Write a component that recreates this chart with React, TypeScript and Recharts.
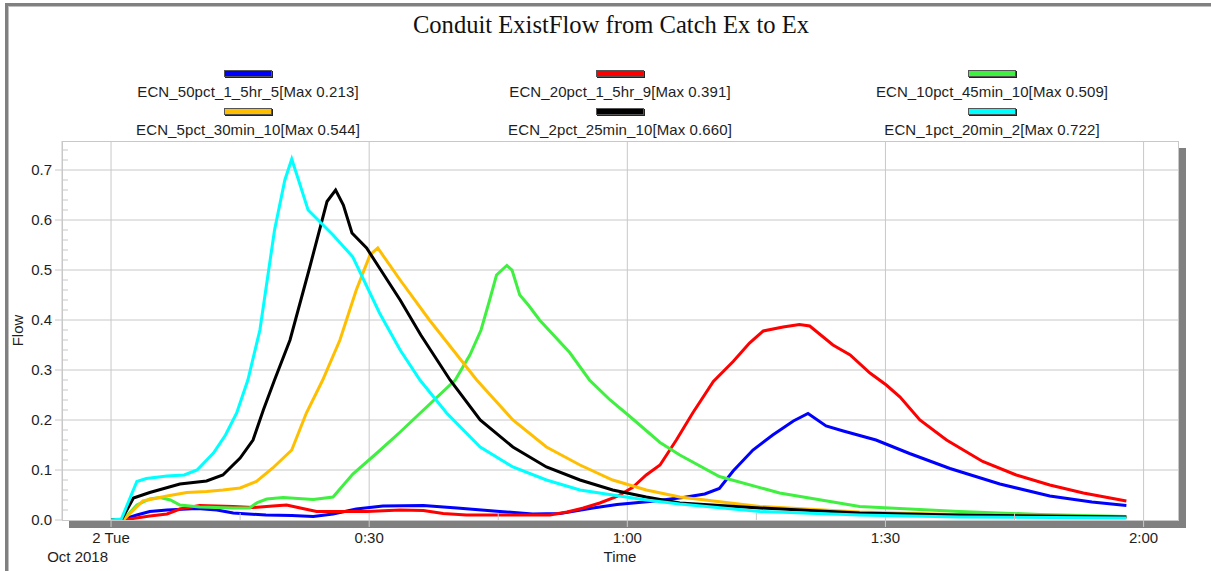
import { LineChart, Line, XAxis, YAxis, ReferenceLine } from "recharts";

type Pt = [number, number];

// minutes since 2 Oct 2018 00:00, flow
const ecn50pct: Pt[] = [
  [0, 0], [1.2, 0], [3, 0.01], [4.5, 0.017], [6.5, 0.02], [10, 0.023], [12.3, 0.02], [14.2, 0.014],
  [18, 0.01], [21, 0.009], [23.5, 0.007], [25.8, 0.012], [28.5, 0.022], [31.6, 0.028], [36.3, 0.029],
  [40.2, 0.024], [45.2, 0.017], [49, 0.012], [52.2, 0.013], [56, 0.024], [58.8, 0.031], [62.6, 0.037],
  [66.5, 0.045], [69, 0.052], [70.7, 0.063], [72.3, 0.098], [74.6, 0.14], [76.9, 0.17], [79.3, 0.198],
  [81, 0.213], [83.1, 0.188], [85.1, 0.178], [88.9, 0.16], [92.8, 0.133], [97.5, 0.103], [103.3, 0.072],
  [109.1, 0.048], [114, 0.036], [118, 0.029],
];
const ecn20pct: Pt[] = [
  [0, 0], [1.4, 0], [4.5, 0.008], [6.5, 0.012], [8, 0.022], [10.3, 0.029], [14.2, 0.027], [16.5, 0.025],
  [18.8, 0.028], [20.4, 0.03], [22, 0.024], [23.9, 0.017], [29.7, 0.017], [33.6, 0.02], [36.3, 0.019],
  [38.6, 0.013], [41.3, 0.01], [51, 0.01], [53, 0.016], [54.9, 0.024], [56.8, 0.034], [58.8, 0.047],
  [60.6, 0.065], [62.2, 0.09], [63.8, 0.11], [65.7, 0.16], [67.6, 0.214], [70, 0.277], [72.3, 0.317],
  [74.2, 0.354], [75.8, 0.378], [78.1, 0.386], [80, 0.391], [81.2, 0.388], [83.9, 0.35], [85.9, 0.33],
  [88.2, 0.294], [90.1, 0.27], [91.7, 0.246], [94, 0.2], [97.1, 0.16], [101.3, 0.117], [105.2, 0.09],
  [109.1, 0.07], [113, 0.054], [118, 0.038],
];
const ecn10pct: Pt[] = [
  [0, 0], [1.4, 0], [3, 0.03], [4.5, 0.042], [5.7, 0.045], [6.9, 0.04], [8, 0.03], [10.3, 0.026],
  [14.2, 0.024], [16.1, 0.024], [17, 0.035], [18.1, 0.042], [20, 0.045], [23.5, 0.041], [25.8, 0.046],
  [28.1, 0.092], [31.1, 0.137], [33.6, 0.176], [36, 0.215], [40, 0.28], [41.7, 0.33], [43, 0.38],
  [44, 0.44], [44.8, 0.49], [46, 0.509], [46.6, 0.5], [47.5, 0.45], [48.5, 0.43], [49.8, 0.4],
  [53.3, 0.335], [55.6, 0.28], [58, 0.24], [60.3, 0.207], [63.8, 0.155], [66.1, 0.13], [70.7, 0.087],
  [77.7, 0.054], [87, 0.027], [98.6, 0.017], [108, 0.011], [118, 0.007],
];
const ecn5pct: Pt[] = [
  [0, 0], [1.4, 0], [3.7, 0.038], [6.5, 0.048], [8.8, 0.055], [11.1, 0.057], [13, 0.06], [15, 0.064],
  [16.9, 0.077], [18.8, 0.104], [21, 0.14], [22.7, 0.214], [24.6, 0.28], [26.6, 0.36], [28.5, 0.46],
  [30.1, 0.53], [31, 0.544], [33.6, 0.48], [37, 0.4], [42.5, 0.28], [46.7, 0.2], [50.6, 0.146],
  [54.5, 0.11], [58.3, 0.08], [62.2, 0.06], [66.1, 0.046], [75.4, 0.027], [87, 0.016], [98, 0.011],
  [108, 0.008], [118, 0.006],
];
const ecn2pct: Pt[] = [
  [0, 0], [1.2, 0], [2.6, 0.044], [4.5, 0.055], [8, 0.072], [11.1, 0.078], [13, 0.09], [15, 0.124],
  [16.5, 0.16], [17.7, 0.22], [19, 0.28], [20.8, 0.36], [23.1, 0.506], [25.1, 0.637], [26.1, 0.66],
  [27, 0.63], [28, 0.574], [29.7, 0.544], [31.2, 0.504], [33.6, 0.44], [36, 0.37], [39.4, 0.28],
  [42.9, 0.2], [46.7, 0.146], [50.6, 0.106], [54.5, 0.08], [58.3, 0.06], [62.2, 0.046], [66.1, 0.034],
  [75.4, 0.024], [87, 0.014], [98, 0.01], [108, 0.008], [118, 0.006],
];
const ecn1pct: Pt[] = [
  [0, 0], [1.2, 0.002], [3, 0.077], [4.1, 0.083], [6.5, 0.088], [8.5, 0.09], [10, 0.1], [11.9, 0.134],
  [13.3, 0.17], [14.6, 0.214], [15.9, 0.28], [17.3, 0.38], [19, 0.58], [20.2, 0.68], [21, 0.722],
  [21.6, 0.69], [22.9, 0.62], [25.8, 0.57], [28.1, 0.526], [31.2, 0.414], [33.6, 0.34], [35.9, 0.28],
  [39, 0.214], [42.9, 0.146], [46.7, 0.106], [50.6, 0.08], [54.5, 0.06], [58.3, 0.05], [62.2, 0.04],
  [66.1, 0.032], [75.4, 0.017], [87, 0.01], [98.6, 0.006], [118, 0.004],
];

const seriesNames = [
  "ECN_50pct_1_5hr_5", "ECN_20pct_1_5hr_9", "ECN_10pct_45min_10",
  "ECN_5pct_30min_10", "ECN_2pct_25min_10", "ECN_1pct_20min_2",
];
const seriesMax = ["0.213", "0.391", "0.509", "0.544", "0.660", "0.722"];
const seriesColors = ["#0000ff", "#ff0000", "#40f040", "#ffbf00", "#000000", "#00ffff"];
const seriesData = [ecn50pct, ecn20pct, ecn10pct, ecn5pct, ecn2pct, ecn1pct];

const yMajor = [0.1, 0.2, 0.3, 0.4, 0.5, 0.6, 0.7];
const yTicks = [0, 0.02, 0.04, 0.06, 0.08, 0.1, 0.12, 0.14, 0.16, 0.18, 0.2, 0.22, 0.24, 0.26, 0.28, 0.3,
  0.32, 0.34, 0.36, 0.38, 0.4, 0.42, 0.44, 0.46, 0.48, 0.5, 0.52, 0.54, 0.56, 0.58, 0.6, 0.62, 0.64, 0.66,
  0.68, 0.7, 0.72, 0.74];
const xMajor = [0, 30, 60, 90, 120];
const xTicks = [0, 15, 30, 45, 60, 75, 90, 105, 120];
const xLabels: Record<number, string> = { 0: "2 Tue", 30: "0:30", 60: "1:00", 90: "1:30", 120: "2:00" };
const xDateLabel = "Oct 2018";

const W = 1211;
const H = 571;
const PLOT = { left: 62, top: 141, right: 1178, bottom: 520 };
const GRID = "#c8c8c8";
const SANS = "'Liberation Sans', Arial, sans-serif";
const TEXT = "#1e1e1e";

function YTick(props: any) {
  const { x, y, payload } = props;
  const ax = x + 10;
  const v = payload.value as number;
  const major = Math.abs(v * 10 - Math.round(v * 10)) < 1e-6;
  if (!major) return <line x1={ax} x2={ax + 6} y1={y} y2={y} stroke={GRID} />;
  return (
    <g>
      <line x1={ax - 7} x2={ax} y1={y} y2={y} stroke={GRID} />
      <text x={x} y={y} dy="0.355em" textAnchor="end" fontSize={15} fontFamily={SANS} fill={TEXT}>
        {v.toFixed(1)}
      </text>
    </g>
  );
}

function XTick(props: any) {
  const { x, y, payload } = props;
  const ay = y - 12;
  const label = xLabels[payload.value];
  if (!label) return <line x1={x} x2={x} y1={ay - 7} y2={ay} stroke={GRID} />;
  return (
    <g>
      <line x1={x} x2={x} y1={ay} y2={ay + 7} stroke={GRID} />
      <text x={x} y={y} dy="0.71em" textAnchor="middle" fontSize={15} fontFamily={SANS} fill={TEXT}>
        {label}
      </text>
      {payload.value === 0 && (
        <text x={x - 3} y={y + 19} dy="0.71em" textAnchor="end" fontSize={15} fontFamily={SANS} fill={TEXT}>
          {xDateLabel}
        </text>
      )}
    </g>
  );
}

export default function App() {
  return (
    <div style={{ position: "absolute", left: 0, top: 0, width: W, height: H, overflow: "hidden", background: "#fff" }}>
      {/* window frame */}
      <div
        style={{
          position: "absolute", left: 5, top: 3, width: W, height: H,
          borderTop: "3px solid #808080", borderLeft: "3px solid #808080",
          boxShadow: "inset 1px 1px 0 #c0c0c0",
        }}
      />
      <div
        style={{
          position: "absolute", left: 11, top: 11, width: 1200, textAlign: "center",
          fontFamily: "'Liberation Serif', 'Times New Roman', serif", fontSize: 24.6, lineHeight: "28px", color: "#111",
        }}
      >
        Conduit ExistFlow from Catch Ex to Ex
      </div>
      <div
        style={{
          position: "absolute", left: PLOT.left, top: 70, width: PLOT.right - PLOT.left,
          display: "grid", gridTemplateColumns: "repeat(3, 1fr)", rowGap: 7,
          fontFamily: SANS, fontSize: 15, color: TEXT,
        }}
      >
        {seriesNames.map((name, i) => (
          <div key={name} style={{ display: "flex", flexDirection: "column", alignItems: "center" }}>
            <div
              style={{
                width: 46, height: 5, background: seriesColors[i],
                border: "1px solid #555", boxShadow: "1px 1px 0 #222", marginBottom: 6,
              }}
            />
            <div style={{ lineHeight: "18px", whiteSpace: "nowrap", letterSpacing: 0.1 }}>
              {name}[Max {seriesMax[i]}]
            </div>
          </div>
        ))}
      </div>
      {/* plot frame with drop shadow */}
      <div
        style={{
          position: "absolute", left: PLOT.left, top: PLOT.top,
          width: PLOT.right - PLOT.left + 1, height: PLOT.bottom - PLOT.top + 1,
          boxSizing: "border-box", border: `1px solid ${GRID}`, background: "#fff",
          boxShadow: "7px 7px 0 #808080",
        }}
      />
      <div style={{ position: "absolute", left: 0, top: 0 }}>
        <LineChart
          width={W}
          height={H}
          margin={{ top: PLOT.top, right: W - PLOT.right, bottom: H - PLOT.bottom - 45, left: PLOT.left - 50 }}
        >
          <XAxis
            dataKey="t"
            type="number"
            domain={[-5.7, 124]}
            allowDataOverflow
            ticks={xTicks}
            interval={0}
            height={45}
            tickSize={7}
            tickMargin={5}
            tickLine={false}
            axisLine={false}
            tick={<XTick />}
            label={{ value: "Time", position: "insideBottom", offset: 3, fontSize: 15, fontFamily: SANS, fill: TEXT }}
          />
          <YAxis
            type="number"
            domain={[0, 0.758]}
            allowDataOverflow
            ticks={yTicks}
            interval={0}
            width={50}
            tickSize={7}
            tickMargin={3}
            tickLine={false}
            axisLine={{ stroke: GRID }}
            tick={<YTick />}
            label={{
              value: "Flow", angle: -90, position: "insideLeft", offset: 6,
              style: { textAnchor: "middle" }, fontSize: 15, fontFamily: SANS, fill: TEXT,
            }}
          />
          {yMajor.map((v) => (
            <ReferenceLine key={`y${v}`} y={v} stroke={GRID} strokeWidth={1} />
          ))}
          {xMajor.map((v) => (
            <ReferenceLine key={`x${v}`} x={v} stroke={GRID} strokeWidth={1} />
          ))}
          {seriesNames.map((name, i) => (
            <Line
              key={name}
              data={seriesData[i].map(([t, v]) => ({ t, v }))}
              dataKey="v"
              name={name}
              type="linear"
              stroke={seriesColors[i]}
              strokeWidth={3}
              dot={false}
              isAnimationActive={false}
            />
          ))}
        </LineChart>
      </div>
    </div>
  );
}
